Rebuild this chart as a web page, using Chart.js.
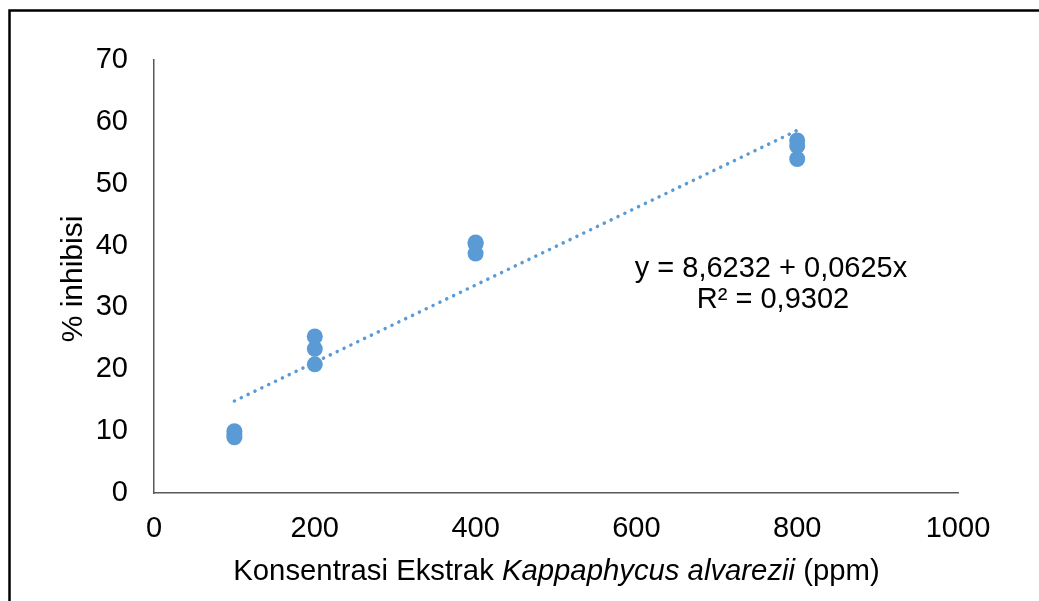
<!DOCTYPE html>
<html>
<head>
<meta charset="utf-8">
<script src="https://cdn.jsdelivr.net/npm/chart.js@4.4.1/dist/chart.umd.min.js"></script>
<style>
  html, body { margin: 0; padding: 0; background: #ffffff; }
  #wrap { width: 1039px; height: 601px; position: relative; }
</style>
</head>
<body>
<div id="wrap"><canvas id="c" width="1039" height="601"></canvas></div>
<script>
// ---- data ----
const concentrations = [100, 100, 100, 200, 200, 200, 400, 400, 400, 800, 800, 800];
const inhibition = [10.0, 9.4, 9.0, 25.3, 23.3, 20.8, 40.5, 40.3, 38.7, 57.0, 56.1, 54.0];
const trendX = [100, 800];
const trendY = [14.87, 58.62];
const xTickValues = [0, 200, 400, 600, 800, 1000];
const yTickValues = [0, 10, 20, 30, 40, 50, 60, 70];
const equationLines = ['y = 8,6232 + 0,0625x', 'R\u00B2 = 0,9302'];
const yTitle = '% inhibisi';
const xTitleParts = [
  { text: 'Konsentrasi Ekstrak ', italic: false },
  { text: 'Kappaphycus alvarezii', italic: true },
  { text: ' (ppm)', italic: false }
];

const FONT = '"Liberation Sans", Arial, sans-serif';
const FS = 29;
const BLUE = '#5B9BD5';

const pointData = concentrations.map((x, i) => ({ x: x, y: inhibition[i] }));
const trendData = trendX.map((x, i) => ({ x: x, y: trendY[i] }));

const decorPlugin = {
  id: 'decor',
  afterDraw(chart) {
    const ctx = chart.ctx;
    const area = chart.chartArea;
    ctx.save();
    ctx.fillStyle = '#000000';
    // y title
    ctx.save();
    ctx.translate(82, 279);
    ctx.rotate(-Math.PI / 2);
    ctx.font = '30px ' + FONT;
    ctx.textAlign = 'center';
    ctx.textBaseline = 'alphabetic';
    ctx.fillText(yTitle, 0, 0);
    ctx.restore();
    // x title with italic part
    ctx.textAlign = 'left';
    ctx.textBaseline = 'alphabetic';
    const XFS = 29.3;
    let total = 0;
    const widths = xTitleParts.map(p => {
      ctx.font = (p.italic ? 'italic ' : '') + XFS + 'px ' + FONT;
      const w = ctx.measureText(p.text).width;
      total += w;
      return w;
    });
    let x = 556.5 - total / 2;
    xTitleParts.forEach((p, i) => {
      ctx.font = (p.italic ? 'italic ' : '') + XFS + 'px ' + FONT;
      ctx.fillText(p.text, x, 580);
      x += widths[i];
    });
    // equation
    ctx.font = FS + 'px ' + FONT;
    ctx.textAlign = 'center';
    ctx.fillText(equationLines[0], 771, 277);
    ctx.fillText(equationLines[1], 773, 308);
    // outer frame
    ctx.strokeStyle = '#000000';
    ctx.lineWidth = 2.5;
    ctx.beginPath();
    ctx.moveTo(9.5, 601);
    ctx.lineTo(9.5, 10.5);
    ctx.lineTo(1039, 10.5);
    ctx.stroke();
    ctx.restore();
  }
};

new Chart(document.getElementById('c'), {
  type: 'scatter',
  data: {
    datasets: [
      {
        label: 'inhibisi',
        data: pointData,
        pointRadius: 8,
        pointHoverRadius: 8,
        pointBackgroundColor: BLUE,
        pointBorderWidth: 0,
        showLine: false
      },
      {
        label: 'trend',
        type: 'line',
        data: trendData,
        borderColor: BLUE,
        borderWidth: 3.5,
        borderDash: [0.1, 7.5],
        borderCapStyle: 'round',
        pointRadius: 0,
        fill: false,
        tension: 0
      }
    ]
  },
  options: {
    responsive: false,
    animation: false,
    events: [],
    layout: { padding: { top: 60, right: 81, left: 0, bottom: 0 } },
    plugins: {
      legend: { display: false },
      tooltip: { enabled: false },
      title: { display: false }
    },
    scales: {
      x: {
        type: 'linear',
        min: 0,
        max: 1000,
        afterBuildTicks: s => { s.ticks = xTickValues.map(v => ({ value: v })); },
        afterFit: s => { s.height = 108; },
        grid: { display: false, drawTicks: false },
        border: { display: true, color: '#595959', width: 1.5 },
        ticks: {
          color: '#000000', font: { family: FONT, size: FS }, padding: 19, maxRotation: 0,
          callback: v => String(v)
        }
      },
      y: {
        type: 'linear',
        min: 0,
        max: 70,
        afterBuildTicks: s => { s.ticks = yTickValues.map(v => ({ value: v })); },
        afterFit: s => { s.width = 154; },
        grid: { display: false, drawTicks: false },
        border: { display: true, color: '#595959', width: 1.5 },
        ticks: {
          color: '#000000', font: { family: FONT, size: FS }, padding: 26,
          callback: v => String(v)
        }
      }
    }
  },
  plugins: [decorPlugin]
});
</script>
</body>
</html>
